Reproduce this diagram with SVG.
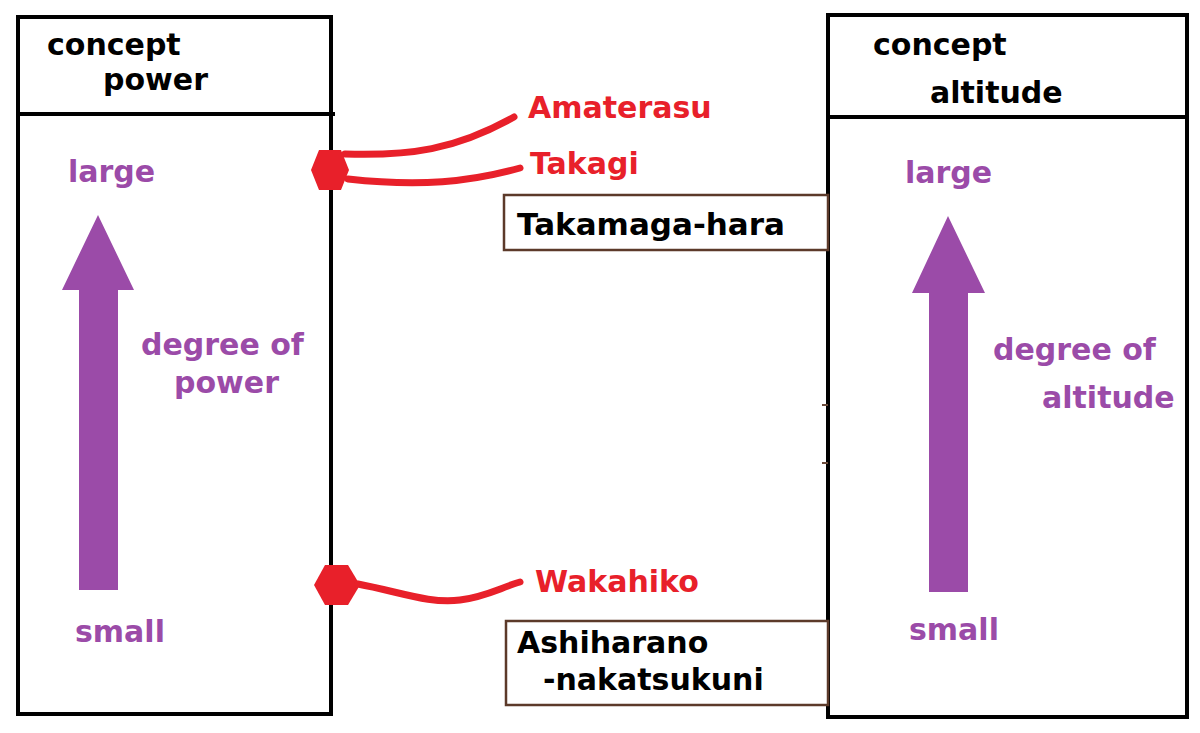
<svg xmlns="http://www.w3.org/2000/svg" width="1200" height="733" viewBox="0 0 1200 733">
<style>
text{font-family:"DejaVu Sans","Noto Sans",sans-serif;font-weight:bold;font-size:30px}
.k{fill:#000}
.p{fill:#9B4BA8}
.r{fill:#E8202A}
.box{fill:none;stroke:#000;stroke-width:4}
.lbl{fill:#fff;stroke:#5C3A2A;stroke-width:2.5}
.red{fill:none;stroke:#E8202A;stroke-width:7;stroke-linecap:round}
</style>
<rect width="1200" height="733" fill="#fff"/>
<g id="power">
<rect class="box" x="18" y="17" width="313" height="697"/>
<line x1="18" y1="114" x2="335" y2="114" stroke="#000" stroke-width="4"/>
<text class="k" x="47" y="55">concept</text>
<text class="k" x="103" y="90">power</text>
<text class="p" x="68" y="182">large</text>
<path class="p" d="M79 590 V290 H62 L98 215 L134 290 H118 V590 Z"/>
<text class="p" x="141" y="355">degree of</text>
<text class="p" x="174" y="393">power</text>
<text class="p" x="75" y="642">small</text>
</g>
<g id="altitude">
<rect class="box" x="828" y="15" width="359" height="702"/>
<line x1="828" y1="117" x2="1187" y2="117" stroke="#000" stroke-width="4"/>
<text class="k" x="873" y="55">concept</text>
<text class="k" x="930" y="103">altitude</text>
<text class="p" x="905" y="183">large</text>
<path class="p" d="M929 592 V293 H912 L948 216 L985 293 H968 V592 Z"/>
<text class="p" x="993" y="360">degree of</text>
<text class="p" x="1042" y="408">altitude</text>
<text class="p" x="909" y="640">small</text>
</g>
<g id="takamaga">
<rect class="lbl" x="504" y="195" width="324" height="55"/>
<text class="k" x="517" y="235" textLength="268" lengthAdjust="spacingAndGlyphs">Takamaga-hara</text>
</g>
<g id="ashiharano">
<rect class="lbl" x="506" y="621" width="322" height="84"/>
<text class="k" x="517" y="653">Ashiharano</text>
<text class="k" x="543" y="690">-nakatsukuni</text>
</g>
<g id="amaterasu"><text class="r" x="528" y="118">Amaterasu</text></g>
<g id="takagi"><text class="r" x="530" y="174">Takagi</text></g>
<g id="wakahiko"><text class="r" x="535" y="592">Wakahiko</text></g>
<g id="connectors">
<polygon fill="#E8202A" points="319,150 341,150 349,170 341,190 319,190 311,170"/>
<polygon fill="#E8202A" points="325,565 348,565 360,585 348,605 325,605 314,585"/>
<path class="red" d="M345 154 C410 156 455 150 514 117"/>
<path class="red" d="M348 179 C420 187 470 182 520 168"/>
<path class="red" d="M358 584 C400 592 430 604 460 600 C485 597 500 588 520 582"/>
<line x1="822" y1="405" x2="828" y2="405" stroke="#6B4A3A" stroke-width="2"/>
<line x1="822" y1="463" x2="828" y2="463" stroke="#6B4A3A" stroke-width="2"/>
</g>
</svg>
